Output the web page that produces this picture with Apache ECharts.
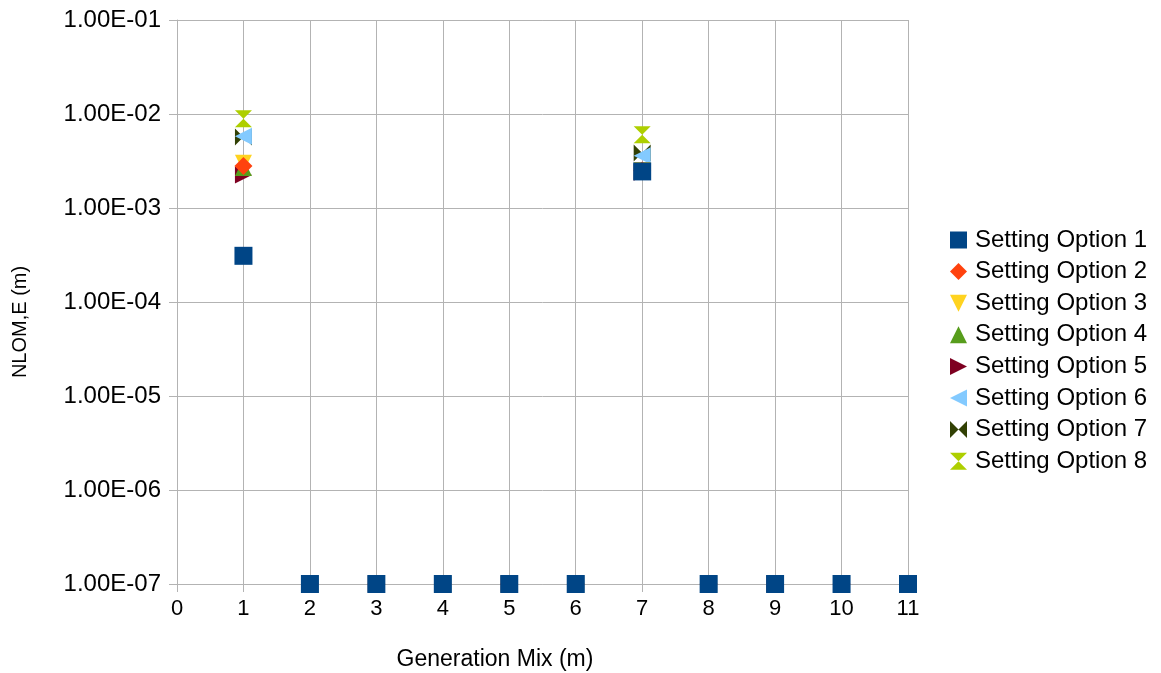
<!DOCTYPE html>
<html>
<head>
<meta charset="utf-8">
<script src="https://cdn.jsdelivr.net/npm/echarts@6/dist/echarts.min.js"></script>
<style>
  html, body { margin: 0; padding: 0; background: #ffffff; }
  #chart { width: 1161px; height: 673px; }
</style>
</head>
<body>
<div id="chart"></div>
<script>
// Generation mix positions (x) and NLOM,E values (m) for each setting option
const mixes = [1, 2, 3, 4, 5, 6, 7, 8, 9, 10, 11];
const option1 = [3.1e-4, 1e-7, 1e-7, 1e-7, 1e-7, 1e-7, 2.45e-3, 1e-7, 1e-7, 1e-7, 1e-7];
const option2 = [2.8e-3, 1e-7, 1e-7, 1e-7, 1e-7, 1e-7, 2.5e-3, 1e-7, 1e-7, 1e-7, 1e-7];
const option3 = [3.0e-3, 1e-7, 1e-7, 1e-7, 1e-7, 1e-7, 2.5e-3, 1e-7, 1e-7, 1e-7, 1e-7];
const option4 = [2.7e-3, 1e-7, 1e-7, 1e-7, 1e-7, 1e-7, 2.5e-3, 1e-7, 1e-7, 1e-7, 1e-7];
const option5 = [2.25e-3, 1e-7, 1e-7, 1e-7, 1e-7, 1e-7, 2.4e-3, 1e-7, 1e-7, 1e-7, 1e-7];
const option6 = [5.8e-3, 1e-7, 1e-7, 1e-7, 1e-7, 1e-7, 3.6e-3, 1e-7, 1e-7, 1e-7, 1e-7];
const option7 = [5.7e-3, 1e-7, 1e-7, 1e-7, 1e-7, 1e-7, 3.85e-3, 1e-7, 1e-7, 1e-7, 1e-7];
const option8 = [8.9e-3, 1e-7, 1e-7, 1e-7, 1e-7, 1e-7, 6.0e-3, 1e-7, 1e-7, 1e-7, 1e-7];

const seriesNames = ['Setting Option 1', 'Setting Option 2', 'Setting Option 3', 'Setting Option 4',
                     'Setting Option 5', 'Setting Option 6', 'Setting Option 7', 'Setting Option 8'];
const xTickLabels = ['0', '1', '2', '3', '4', '5', '6', '7', '8', '9', '10', '11'];
const yTickLabels = ['1.00E-07', '1.00E-06', '1.00E-05', '1.00E-04', '1.00E-03', '1.00E-02', '1.00E-01'];

const colors = ['#004586', '#ff420e', '#ffd320', '#579d1c', '#7e0021', '#83caff', '#314004', '#aecf00'];
const symbols = [
  'rect',
  'diamond',
  'path://M0,0 L10,0 L5,10 Z',          // down triangle
  'path://M5,0 L10,10 L0,10 Z',         // up triangle
  'path://M0,0 L10,5 L0,10 Z',          // right triangle
  'path://M10,0 L0,5 L10,10 Z',         // left triangle
  'path://M0,0 L10,10 L10,0 L0,10 Z',   // bow tie
  'path://M0,0 L10,0 L0,10 L10,10 Z'    // hourglass
];
const sizes = [18, 18, 17, 17, 17, 17, 17, 17];
const values = [option1, option2, option3, option4, option5, option6, option7, option8];

const chart = echarts.init(document.getElementById('chart'), null, { renderer: 'canvas' });

const series = values.map((vals, i) => ({
  name: seriesNames[i],
  type: 'scatter',
  data: mixes.map((x, k) => [x, vals[k]]),
  symbol: symbols[i],
  symbolSize: sizes[i],
  clip: false,
  // earlier options sit on top of later ones
  z: 20 - i,
  itemStyle: { color: colors[i], opacity: 1 },
  emphasis: { disabled: true }
}));

const gray = '#b3b3b3';
const font = 'Liberation Sans, Arial, sans-serif';

chart.setOption({
  animation: false,
  color: colors,
  grid: { left: 177, top: 20, width: 731, height: 564, containLabel: false },
  xAxis: {
    type: 'value',
    min: 0,
    max: 11,
    interval: 1,
    axisLine: { show: true, lineStyle: { color: gray, width: 1 } },
    axisTick: { show: true, length: 8, lineStyle: { color: gray } },
    splitLine: { show: true, lineStyle: { color: gray, width: 1 } },
    axisLabel: {
      margin: 14,
      color: '#000000',
      fontSize: 22,
      fontFamily: font,
      formatter: v => xTickLabels[Math.round(v)]
    }
  },
  yAxis: {
    type: 'log',
    logBase: 10,
    min: 1e-7,
    max: 1e-1,
    axisLine: { show: true, lineStyle: { color: gray, width: 1 } },
    axisTick: { show: true, length: 8, lineStyle: { color: gray } },
    minorTick: { show: false },
    splitLine: { show: true, lineStyle: { color: gray, width: 1 } },
    axisLabel: {
      margin: 16,
      color: '#000000',
      fontSize: 24,
      fontFamily: font,
      formatter: v => yTickLabels[Math.round(Math.log10(v)) + 7]
    }
  },
  legend: {
    orient: 'vertical',
    left: 950,
    top: 228,
    padding: 0,
    itemWidth: 17,
    itemHeight: 17,
    itemGap: 7.6,
    data: seriesNames,
    textStyle: { color: '#000000', fontSize: 24, fontFamily: font, padding: [0, 0, 0, 3] }
  },
  graphic: [
    {
      type: 'text',
      style: { text: 'Generation Mix (m)', fill: '#000000', fontSize: 23, fontFamily: font, align: 'center', verticalAlign: 'middle' },
      x: 495,
      y: 660
    },
    {
      type: 'text',
      rotation: Math.PI / 2,
      style: { text: 'NLOM,E (m)', fill: '#000000', fontSize: 20, fontFamily: font, align: 'center', verticalAlign: 'middle' },
      x: 20,
      y: 322
    }
  ],
  series: series
});
</script>
</body>
</html>
